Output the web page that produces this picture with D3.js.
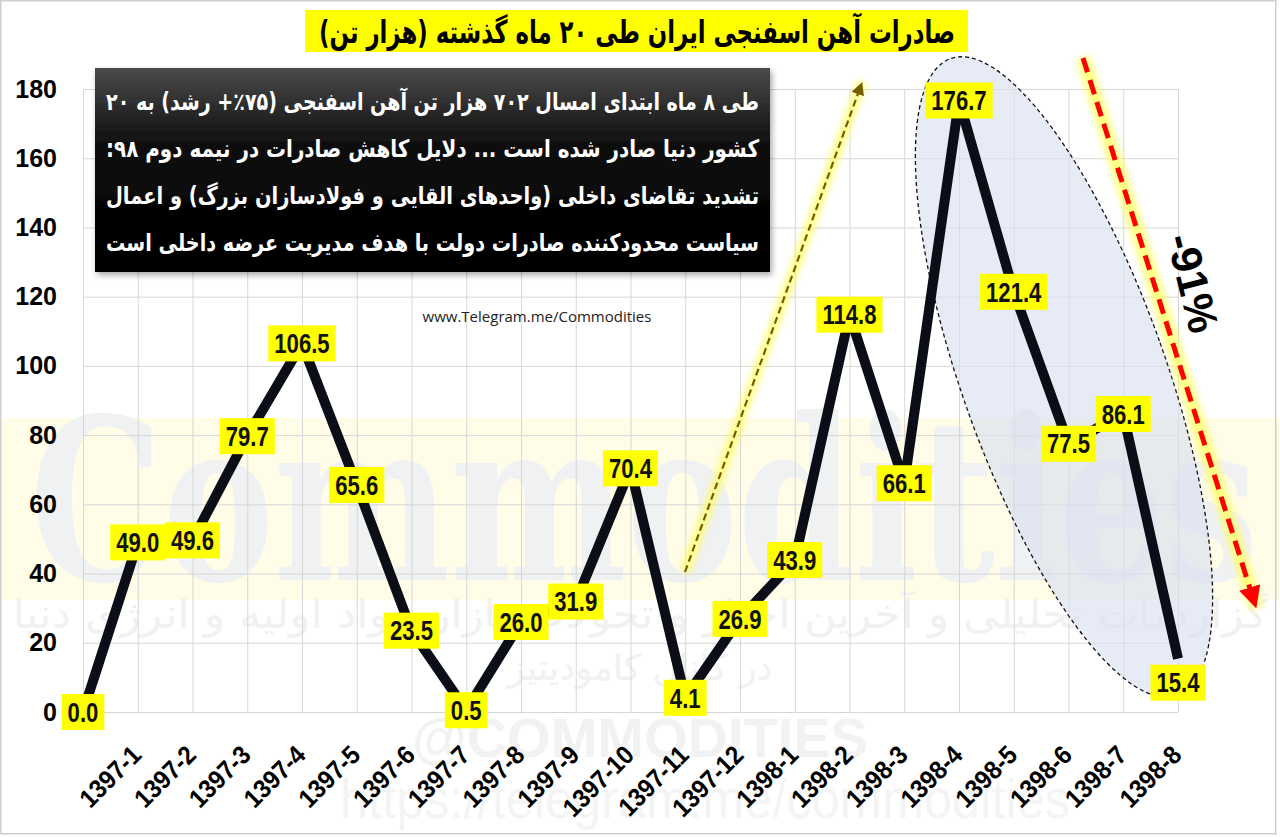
<!DOCTYPE html>
<html>
<head>
<meta charset="utf-8">
<script src="https://cdn.jsdelivr.net/npm/d3@7"></script>
<style>
  body { margin: 0; background: #fff; }
  svg { display: block; }
</style>
</head>
<body>
<div id="wrapper"></div>
<script>
// months (first point has no label), values in thousand tonnes
const months = ["", "1397-1", "1397-2", "1397-3", "1397-4", "1397-5", "1397-6", "1397-7", "1397-8",
  "1397-9", "1397-10", "1397-11", "1397-12", "1398-1", "1398-2", "1398-3", "1398-4", "1398-5",
  "1398-6", "1398-7", "1398-8"]
const exportsKt = [0.0, 49.0, 49.6, 79.7, 106.5, 65.6, 23.5, 0.5, 26.0, 31.9, 70.4, 4.1, 26.9, 43.9,
  114.8, 66.1, 176.7, 121.4, 77.5, 86.1, 15.4]
const yTicks = [0, 20, 40, 60, 80, 100, 120, 140, 160, 180]

const titleText = "صادرات آهن اسفنجی ایران طی ۲۰ ماه گذشته (هزار تن)"
const noteLines = [
  "طی ۸ ماه ابتدای امسال ۷۰۲ هزار تن آهن اسفنجی (۷۵٪+ رشد) به ۲۰",
  "کشور دنیا صادر شده است ... دلایل  کاهش صادرات در نیمه دوم ۹۸:",
  "تشدید تقاضای داخلی (واحدهای القایی و فولادسازان بزرگ) و اعمال",
  "سیاست محدودکننده صادرات دولت با هدف مدیریت عرضه داخلی است"
]
const changeText = "-91%"
const siteText = "www.Telegram.me/Commodities"

width = 1280
height = 837

marginTop = 89
marginLeft = 83
plotRight = 1178
plotBottom = 712

const narrow = 0.82 // horizontal squeeze to mimic a narrow bold face

const svg = d3.select("#wrapper").append("svg")
    .attr("width", width)
    .attr("height", height)
    .style("font-family", "'Liberation Sans', Arial, sans-serif")

const defs = svg.append("defs")
defs.append("filter").attr("id", "glow")
    .attr("x", "-50%").attr("y", "-50%").attr("width", "200%").attr("height", "200%")
    .append("feGaussianBlur").attr("stdDeviation", 3)
defs.append("filter").attr("id", "shadow")
    .attr("x", "-10%").attr("y", "-10%").attr("width", "120%").attr("height", "120%")
    .append("feDropShadow").attr("dx", 2).attr("dy", 3).attr("stdDeviation", 3)
    .attr("flood-color", "#000").attr("flood-opacity", 0.35)
const grad = defs.append("linearGradient").attr("id", "boxGrad")
    .attr("x1", 0).attr("y1", 0).attr("x2", 0).attr("y2", 1)
grad.append("stop").attr("offset", "0%").attr("stop-color", "#4a4a4a")
grad.append("stop").attr("offset", "40%").attr("stop-color", "#0b0b0b")
grad.append("stop").attr("offset", "100%").attr("stop-color", "#000")

function arrowMarker(id, color, size) {
  defs.append("marker").attr("id", id)
      .attr("viewBox", "0 0 10 10").attr("refX", 5).attr("refY", 5)
      .attr("markerWidth", size).attr("markerHeight", size)
      .attr("markerUnits", "userSpaceOnUse")
      .attr("orient", "auto")
      .append("path").attr("d", "M0,0 L10,5 L0,10 z").attr("fill", color)
}
arrowMarker("arrowBrown", "#7a5c00", 13)
arrowMarker("arrowRed", "#ff0000", 22)

// watermark layer
const wm = svg.append("g").attr("class", "watermark")
wm.append("rect").attr("x", 0).attr("y", 418).attr("width", width).attr("height", 182)
    .attr("fill", "#fffce8")
wm.append("text").attr("x", 30).attr("y", 580)
    .attr("textLength", 1228).attr("lengthAdjust", "spacingAndGlyphs")
    .style("font-family", "'DejaVu Serif', serif").style("font-weight", "bold")
    .style("font-size", "225px").attr("fill", "#f0f1f3")
    .text("Commodities")
wm.append("text").attr("x", 640).attr("y", 628).attr("text-anchor", "middle")
    .attr("textLength", 1255).attr("lengthAdjust", "spacingAndGlyphs")
    .attr("direction", "rtl")
    .style("font-family", "'DejaVu Sans', sans-serif").style("font-size", "40px").attr("fill", "#f1f1f1")
    .text("گزارشات تحلیلی و آخرین اخبار و تحولات بازار مواد اولیه و انرژی دنیا")
wm.append("text").attr("x", 640).attr("y", 680).attr("text-anchor", "middle")
    .attr("direction", "rtl")
    .style("font-family", "'DejaVu Sans', sans-serif").style("font-size", "36px").attr("fill", "#f1f1f1")
    .text("در کانال کامودیتیز")
wm.append("text").attr("x", 640).attr("y", 757).attr("text-anchor", "middle")
    .style("font-weight", "bold").style("font-size", "56px").attr("fill", "#f2f2f2")
    .text("@COMMODITIES")
wm.append("text").attr("x", 705).attr("y", 818).attr("text-anchor", "middle")
    .attr("textLength", 730).attr("lengthAdjust", "spacingAndGlyphs")
    .style("font-size", "56px").attr("fill", "#f4f4f4")
    .text("https://telegram.me/commodities")

// scales
const x = d3.scalePoint()
    .domain(months)
    .range([marginLeft, plotRight])
const y = d3.scaleLinear()
    .domain([0, 180])
    .range([plotBottom, marginTop])

// grid
svg.append("g").attr("class", "grid-y")
    .attr("transform", `translate(${marginLeft},0)`)
    .call(d3.axisLeft(y).tickValues(yTicks).tickSize(-(plotRight - marginLeft)).tickFormat(""))
    .call(g => g.select(".domain").remove())
    .call(g => g.selectAll("line").attr("stroke", "#d6d6d6"))
svg.append("g").attr("class", "grid-x")
    .attr("transform", `translate(0,${plotBottom})`)
    .call(d3.axisBottom(x).tickSize(-(plotBottom - marginTop)).tickFormat(""))
    .call(g => g.select(".domain").remove())
    .call(g => g.selectAll("line").attr("stroke", "#d6d6d6"))

// y axis labels
svg.append("g").attr("class", "y-axis")
    .attr("transform", `translate(${marginLeft},0)`)
    .call(d3.axisLeft(y).tickValues(yTicks).tickSize(0).tickPadding(26))
    .call(g => g.select(".domain").remove())
    .call(g => g.selectAll("text")
        .attr("fill", "#000")
        .style("font-family", "'Liberation Sans', Arial, sans-serif")
        .style("font-weight", "bold").style("font-size", "25px"))

// x axis labels, rotated
svg.append("g").attr("class", "x-axis")
    .attr("transform", `translate(0,${plotBottom})`)
    .call(d3.axisBottom(x).tickSize(0))
    .call(g => g.select(".domain").remove())
    .call(g => g.selectAll("text")
        .attr("fill", "#000")
        .style("font-family", "'Liberation Sans', Arial, sans-serif")
        .style("font-weight", "bold").style("font-size", "26px")
        .attr("text-anchor", "end")
        .attr("dy", "0.35em")
        .attr("transform", "translate(-4,36) rotate(-45) scale(0.92,1)"))

// ellipse highlight around the recent decline
svg.append("ellipse")
    .attr("cx", 1064).attr("cy", 377).attr("rx", 102).attr("ry", 338)
    .attr("transform", "rotate(-19.6,1064,377)")
    .attr("fill", "#d9e1ef").attr("fill-opacity", 0.65)
    .attr("stroke", "#111").attr("stroke-width", 1.3).attr("stroke-dasharray", "4,3")

// brown rising arrow with yellow glow
const riseArrow = [[685, 572], [862, 82]]
svg.append("line")
    .attr("x1", riseArrow[0][0]).attr("y1", riseArrow[0][1])
    .attr("x2", riseArrow[1][0]).attr("y2", riseArrow[1][1])
    .attr("stroke", "#ffff55").attr("stroke-width", 10).attr("stroke-opacity", 0.7)
    .attr("filter", "url(#glow)")
svg.append("line")
    .attr("x1", riseArrow[0][0]).attr("y1", riseArrow[0][1])
    .attr("x2", riseArrow[1][0] - 2).attr("y2", riseArrow[1][1] + 6)
    .attr("stroke", "#7a5c00").attr("stroke-width", 2.2).attr("stroke-dasharray", "7,4")
    .attr("marker-end", "url(#arrowBrown)")

// red falling arrow with yellow glow
const fallArrow = [[1083, 58], [1256, 608]]
svg.append("line")
    .attr("x1", fallArrow[0][0]).attr("y1", fallArrow[0][1])
    .attr("x2", fallArrow[1][0]).attr("y2", fallArrow[1][1])
    .attr("stroke", "#ffff55").attr("stroke-width", 14).attr("stroke-opacity", 0.75)
    .attr("filter", "url(#glow)")
svg.append("line")
    .attr("x1", fallArrow[0][0]).attr("y1", fallArrow[0][1])
    .attr("x2", fallArrow[1][0] - 3).attr("y2", fallArrow[1][1] - 10)
    .attr("stroke", "#ff0000").attr("stroke-width", 5).attr("stroke-dasharray", "15,8")
    .attr("marker-end", "url(#arrowRed)")

svg.append("text")
    .attr("transform", "translate(1193,283) rotate(76)")
    .attr("text-anchor", "middle").attr("dy", "0.35em")
    .style("font-weight", "bold").style("font-size", "43px").attr("fill", "#000")
    .text(changeText)

// the line
const line = d3.line()
    .x((d, i) => x(months[i]))
    .y(d => y(d))
svg.append("path")
    .datum(exportsKt)
    .attr("d", line)
    .attr("fill", "none")
    .attr("stroke", "#0b0e16")
    .attr("stroke-width", 10)
    .attr("stroke-linejoin", "round")

// data labels, centred on the points (last one nudged below the line end)
const labelNudge = { 20: 24 }
const labels = svg.append("g").attr("class", "labels")
    .selectAll("g")
    .data(exportsKt)
    .join("g")
    .attr("transform", (d, i) => `translate(${x(months[i])},${y(d) + (labelNudge[i] || 0)})`)
labels.append("rect").attr("fill", "#ffff00")
labels.append("text")
    .attr("text-anchor", "middle").attr("dy", "0.36em")
    .attr("transform", `scale(${narrow},1)`)
    .style("font-family", "'Liberation Sans', Arial, sans-serif")
    .style("font-weight", "bold").style("font-size", "27px")
    .attr("fill", "#111")
    .text(d => d.toFixed(1))
labels.each(function () {
  const g = d3.select(this)
  const w = g.select("text").node().getComputedTextLength() * narrow
  g.select("rect").attr("x", -w / 2 - 6).attr("y", -18).attr("width", w + 12).attr("height", 36)
})

// site url
svg.append("text")
    .attr("x", 537).attr("y", 322).attr("text-anchor", "middle")
    .style("font-family", "'Open Sans', sans-serif").style("font-size", "15px")
    .attr("fill", "#222")
    .text(siteText)

// note box
const noteBox = { x: 95, y: 68, w: 675, h: 204 }
svg.append("rect")
    .attr("x", noteBox.x).attr("y", noteBox.y).attr("width", noteBox.w).attr("height", noteBox.h)
    .attr("fill", "url(#boxGrad)").attr("filter", "url(#shadow)")
svg.append("g").attr("class", "note")
    .selectAll("text")
    .data(noteLines)
    .join("text")
    .attr("x", noteBox.x + noteBox.w / 2)
    .attr("y", (d, i) => 110 + i * 47)
    .attr("direction", "rtl")
    .attr("text-anchor", "middle")
    .attr("textLength", noteBox.w - 22)
    .attr("lengthAdjust", "spacingAndGlyphs")
    .style("font-family", "'DejaVu Sans', sans-serif")
    .style("font-weight", "bold").style("font-size", "24px")
    .attr("fill", "#fff")
    .text(d => d)

// title
svg.append("rect")
    .attr("x", 305).attr("y", 10).attr("width", 663).attr("height", 42)
    .attr("fill", "#ffff00")
svg.append("text")
    .attr("x", 637).attr("y", 31).attr("dy", "0.36em")
    .attr("text-anchor", "middle")
    .attr("direction", "rtl")
    .attr("textLength", 636)
    .attr("lengthAdjust", "spacingAndGlyphs")
    .style("font-family", "'DejaVu Sans', sans-serif")
    .style("font-weight", "bold").style("font-size", "32px")
    .attr("fill", "#000")
    .text(titleText)

// frame
svg.append("rect")
    .attr("x", 0.75).attr("y", 0.75).attr("width", width - 5).attr("height", height - 4)
    .attr("fill", "none").attr("stroke", "#cfcfcf").attr("stroke-width", 1.5)
</script>
</body>
</html>
